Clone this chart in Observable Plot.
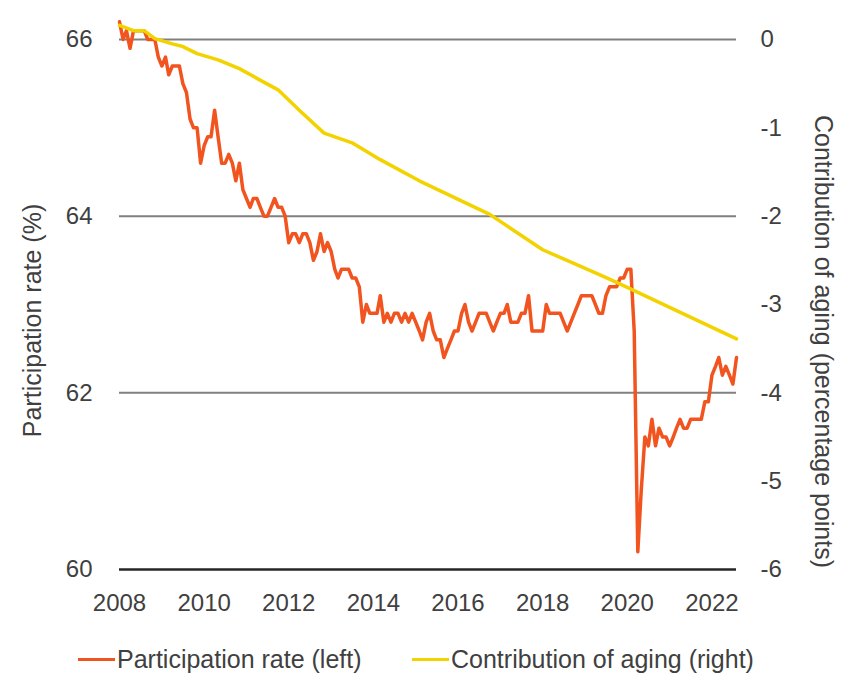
<!DOCTYPE html>
<html>
<head>
<meta charset="utf-8">
<script src="https://cdn.jsdelivr.net/npm/d3@7"></script>
<script src="https://cdn.jsdelivr.net/npm/@observablehq/plot@0.6"></script>
<style>
  body { margin: 0; background: #fff; font-family: "Liberation Sans", Arial, sans-serif; }
  #wrap { position: relative; width: 855px; height: 678px; overflow: hidden; }
  .item { position: absolute; top: 645px; height: 28px; line-height: 28px; display: flex; align-items: center;
          font-size: 25px; color: #404040; white-space: nowrap; }
  .sw { display: inline-block; width: 37px; height: 3px; margin-right: 2px; }
</style>
</head>
<body>
<div id="wrap">
  <div id="chart"></div>
  <div class="item" style="left:78px"><span class="sw" style="background:#f2541f"></span><span id="lg1"></span></div>
  <div class="item" style="left:412px"><span class="sw" style="background:#f2d300"></span><span id="lg2"></span></div>
</div>
<script>
// ---- Data ----
const startYear = 2008; // monthly series begins January 2008
const participation = [
  66.2, 66.0, 66.1, 65.9, 66.1, 66.1, 66.1, 66.1, 66.0, 66.0, 66.0, 65.8, // 2008
  65.7, 65.8, 65.6, 65.7, 65.7, 65.7, 65.5, 65.4, 65.1, 65.0, 65.0, 64.6, // 2009
  64.8, 64.9, 64.9, 65.2, 64.9, 64.6, 64.6, 64.7, 64.6, 64.4, 64.6, 64.3, // 2010
  64.2, 64.1, 64.2, 64.2, 64.1, 64.0, 64.0, 64.1, 64.2, 64.1, 64.1, 64.0, // 2011
  63.7, 63.8, 63.8, 63.7, 63.8, 63.8, 63.7, 63.5, 63.6, 63.8, 63.6, 63.7, // 2012
  63.6, 63.4, 63.3, 63.4, 63.4, 63.4, 63.3, 63.3, 63.2, 62.8, 63.0, 62.9, // 2013
  62.9, 62.9, 63.1, 62.8, 62.9, 62.8, 62.9, 62.9, 62.8, 62.9, 62.8, 62.9, // 2014
  62.8, 62.7, 62.6, 62.8, 62.9, 62.7, 62.6, 62.6, 62.4, 62.5, 62.6, 62.7, // 2015
  62.7, 62.9, 63.0, 62.8, 62.7, 62.8, 62.9, 62.9, 62.9, 62.8, 62.7, 62.8, // 2016
  62.9, 62.9, 63.0, 62.8, 62.8, 62.8, 62.9, 62.9, 63.1, 62.7, 62.7, 62.7, // 2017
  62.7, 63.0, 62.9, 62.9, 62.9, 62.9, 62.8, 62.7, 62.8, 62.9, 63.0, 63.1, // 2018
  63.1, 63.1, 63.1, 63.0, 62.9, 62.9, 63.1, 63.2, 63.2, 63.2, 63.3, 63.3, // 2019
  63.4, 63.4, 62.7, 60.2, 60.9, 61.5, 61.4, 61.7, 61.4, 61.6, 61.5, 61.5, // 2020
  61.4, 61.5, 61.6, 61.7, 61.6, 61.6, 61.7, 61.7, 61.7, 61.7, 61.9, 61.9, // 2021
  62.2, 62.3, 62.4, 62.2, 62.3, 62.2, 62.1, 62.4                          // 2022
];
const agingDates = ["2008-01","2008-05","2008-08","2008-11","2009-04","2009-07","2009-11","2010-05",
  "2010-11","2011-04","2011-10","2012-04","2012-11","2013-07","2014-03","2015-02","2016-10",
  "2018-01","2019-05","2019-10","2022-08"];
const agingValues = [0.16, 0.10, 0.10, 0.01, -0.05, -0.08, -0.16, -0.23,
  -0.33, -0.44, -0.57, -0.80, -1.06, -1.17, -1.36, -1.60, -1.98,
  -2.38, -2.66, -2.75, -3.39];
const leftTicks = [60, 62, 64, 66];
const rightTicks = [0, -1, -2, -3, -4, -5, -6];
const xTickYears = [2008, 2010, 2012, 2014, 2016, 2018, 2020, 2022];
const rightZeroOnLeft = 66; // right axis 0 sits at left 66, same unit size
const leftTitle = "Participation rate (%)";
const rightTitle = "Contribution of aging (percentage points)";
const legendLabels = ["Participation rate (left)", "Contribution of aging (right)"];
const colors = {participation: "#f2541f", aging: "#f2d300", text: "#404040"};

// ---- Build tables ----
const partData = participation.map((v, i) => ({date: new Date(Date.UTC(startYear, i, 1)), value: v}));
const agingData = agingDates.map((d, i) => ({date: new Date(d + "-01T00:00:00Z"), value: agingValues[i] + rightZeroOnLeft}));

const font = "'Liberation Sans', Arial, sans-serif";
const plot = Plot.plot({
  width: 855,
  height: 620,
  marginLeft: 119,
  marginRight: 119,
  marginTop: 39,
  marginBottom: 51,
  style: {fontFamily: font, background: "#fff", color: colors.text, overflow: "visible"},
  x: {type: "utc", domain: [new Date("2008-01-01T00:00:00Z"), new Date("2022-08-01T00:00:00Z")]},
  y: {domain: [60, 66]},
  marks: [
    Plot.ruleY(leftTicks.filter(d => d !== 60), {stroke: "#808080", strokeWidth: 2}),
    Plot.ruleY([60], {stroke: "#262626", strokeWidth: 2.5}),
    Plot.axisY(leftTicks, {anchor: "left", tickSize: 0, tickPadding: 27, label: null,
      fontSize: 24, fill: colors.text, tickFormat: d => String(d)}),
    Plot.axisY(rightTicks.map(r => r + rightZeroOnLeft), {anchor: "right", tickSize: 0, tickPadding: 24,
      label: null, fontSize: 24, fill: colors.text, textAnchor: "start",
      tickFormat: d => String(Math.round(d - rightZeroOnLeft) || 0)}),
    Plot.axisX(xTickYears.map(y => new Date(Date.UTC(y, 0, 1))), {anchor: "bottom", tickSize: 0, tickPadding: 24,
      label: null, fontSize: 24, fill: colors.text, tickFormat: d => String(d.getUTCFullYear())}),
    Plot.line(partData, {x: "date", y: "value", stroke: colors.participation, strokeWidth: 3.5,
      strokeLinejoin: "round", strokeLinecap: "round"}),
    Plot.line(agingData, {x: "date", y: "value", stroke: colors.aging, strokeWidth: 3.5,
      strokeLinejoin: "round", strokeLinecap: "round"}),
    Plot.text([leftTitle], {text: d => d, frameAnchor: "left", textAnchor: "middle", lineAnchor: "middle",
      rotate: -90, dx: -87, dy: 16, fontSize: 25, fill: colors.text}),
    Plot.text([rightTitle], {text: d => d, frameAnchor: "right", textAnchor: "middle", lineAnchor: "middle",
      rotate: 90, dx: 86, dy: 37, fontSize: 25, fill: colors.text})
  ]
});
document.getElementById("chart").appendChild(plot);
document.getElementById("lg1").textContent = legendLabels[0];
document.getElementById("lg2").textContent = legendLabels[1];
</script>
</body>
</html>
